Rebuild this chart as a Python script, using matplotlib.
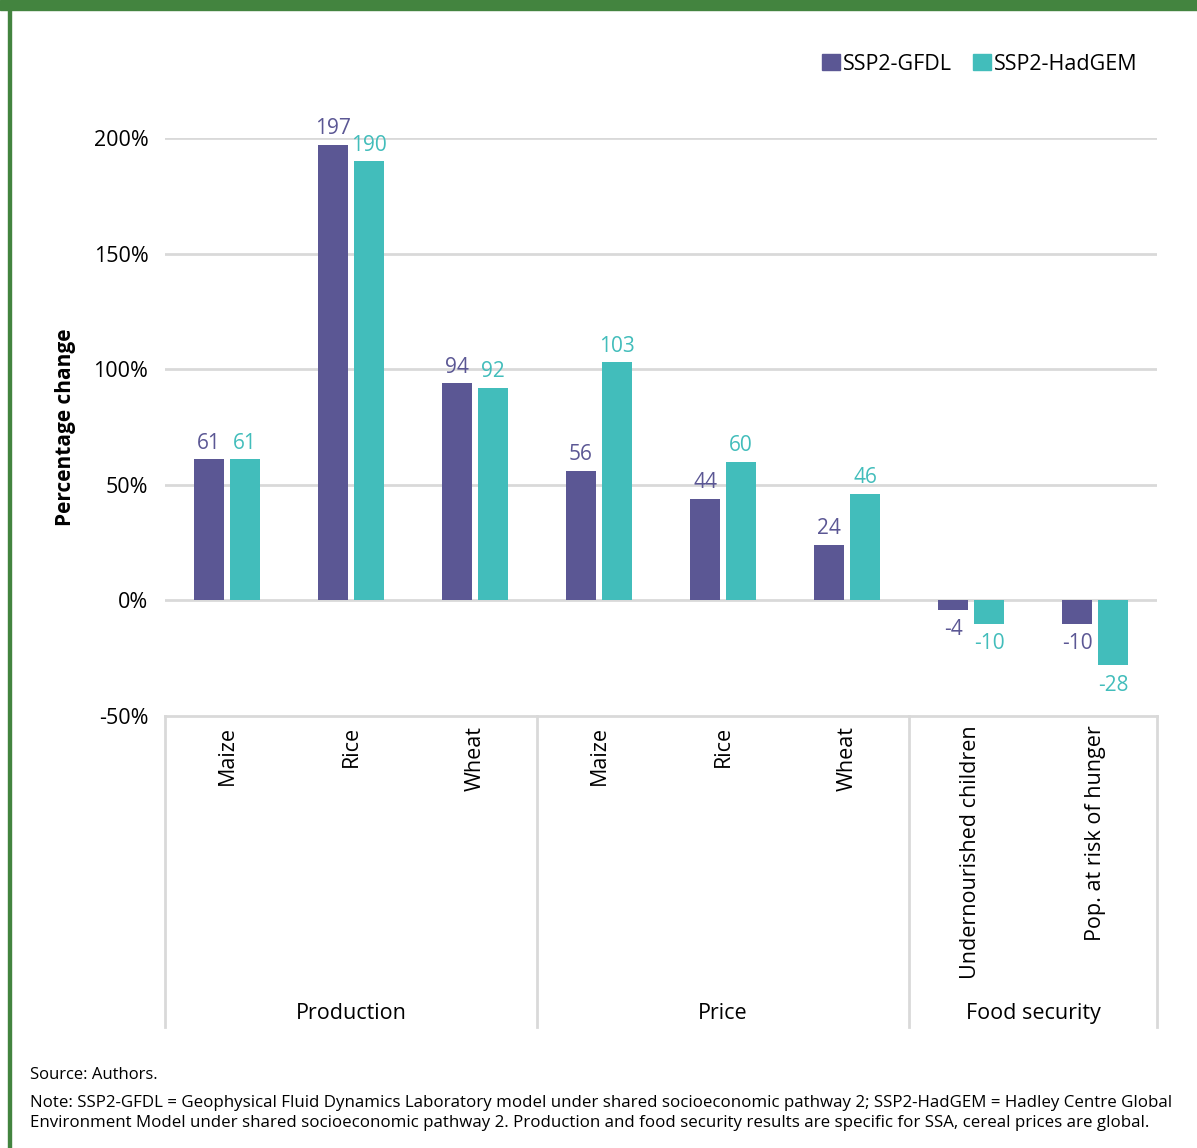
import matplotlib
matplotlib.use("Agg")
import matplotlib.pyplot as plt
import numpy as np
from matplotlib.patches import Rectangle
from matplotlib.lines import Line2D

plt.rcParams['font.family'] = ['Open Sans', 'DejaVu Sans']

# ---- data ----
categories = ["Maize", "Rice", "Wheat", "Maize", "Rice", "Wheat",
              "Undernourished children", "Pop. at risk of hunger"]
groups = ["Production", "Price", "Food security"]
group_sizes = [3, 3, 2]
series_names = ["SSP2-GFDL", "SSP2-HadGEM"]
gfdl = [61, 197, 94, 56, 44, 24, -4, -10]
hadgem = [61, 190, 92, 103, 60, 46, -10, -28]
yticks = [-50, 0, 50, 100, 150, 200]
ytick_labels = ["-50%", "0%", "50%", "100%", "150%", "200%"]

C1 = "#5B5794"
C2 = "#42BDBB"
GRID = "#D9D9D9"
GREEN = "#43843F"

W, H = 1197, 1148
fig = plt.figure(figsize=(W / 100, H / 100), dpi=100)

def fx(px):
    return px / W

def fy(py):
    return 1 - py / H

# frame decoration
fig.patches.append(Rectangle((0, fy(10)), 1, 10 / H, transform=fig.transFigure,
                             color=GREEN, zorder=0))
fig.patches.append(Rectangle((fx(8), 0), 3 / W, 1, transform=fig.transFigure,
                             color=GREEN, zorder=0))

ax = fig.add_axes([fx(165), fy(716), fx(1157) - fx(165), fy(138) - fy(716)])
x = np.arange(len(categories))
bw = 0.235
off = 0.145
b1 = ax.bar(x - off, gfdl, width=bw, color=C1, zorder=3)
b2 = ax.bar(x + off, hadgem, width=bw, color=C2, zorder=3)

ax.set_xlim(-0.5, len(categories) - 0.5)
ax.set_ylim(-50, 200)
ax.set_yticks(yticks)
ax.set_yticklabels(ytick_labels, fontsize=15.5)
ax.tick_params(axis='y', length=0, pad=12)
ax.tick_params(axis='x', length=0, pad=7)
for v in yticks[1:]:
    ax.axhline(v, color=GRID, lw=2, zorder=1)
for s in ["top", "right", "left"]:
    ax.spines[s].set_visible(False)
ax.spines["bottom"].set_color(GRID)
ax.spines["bottom"].set_linewidth(2)

ax.set_xticks(x)
ax.set_xticklabels(categories, rotation=90, fontsize=15.5, va='top')

fig.text(fx(66), fy(427), "Percentage change", fontsize=15, fontweight='bold',
         rotation=90, ha='center', va='center')

for bars, vals, col in [(b1, gfdl, C1), (b2, hadgem, C2)]:
    for rect, v in zip(bars, vals):
        cx = rect.get_x() + rect.get_width() / 2
        if v >= 0:
            ax.annotate(str(v), (cx, v), xytext=(0, 4), textcoords='offset points',
                        ha='center', va='bottom', color=col, fontsize=15, zorder=4)
        else:
            ax.annotate(str(v), (cx, v), xytext=(0, -7), textcoords='offset points',
                        ha='center', va='top', color=col, fontsize=15, zorder=4)

# multi-level category axis: separators and group labels
bounds = np.cumsum([0] + group_sizes)
for b in bounds:
    xp = b - 0.5
    ax.add_line(Line2D([xp, xp], [-50, -50 - 311 / 2.31], color=GRID, lw=2,
                       clip_on=False, zorder=2))
for i, g in enumerate(groups):
    mid = (bounds[i] + bounds[i + 1]) / 2 - 0.5
    ax.text(mid, -50 - 297 / 2.31, g, ha='center', va='center', fontsize=15.5,
            clip_on=False)

# legend
handles = [Rectangle((0, 0), 1, 1, color=C1), Rectangle((0, 0), 1, 1, color=C2)]
fig.legend(handles, series_names, loc='center right', bbox_to_anchor=(fx(1146), fy(64)),
           ncol=2, frameon=False, fontsize=15.5, handlelength=0.8, handleheight=0.8,
           handletextpad=0.15, columnspacing=1.0, borderaxespad=0)

# footnotes
fig.text(fx(30), fy(1075), "Source: Authors.", fontsize=12, va='center', ha='left')
fig.text(fx(30), fy(1103),
         "Note: SSP2-GFDL = Geophysical Fluid Dynamics Laboratory model under shared socioeconomic pathway 2; SSP2-HadGEM = Hadley Centre Global",
         fontsize=12.2, va='center', ha='left')
fig.text(fx(30), fy(1123),
         "Environment Model under shared socioeconomic pathway 2. Production and food security results are specific for SSA, cereal prices are global.",
         fontsize=12.2, va='center', ha='left')

fig.savefig("out.png", dpi=100)
